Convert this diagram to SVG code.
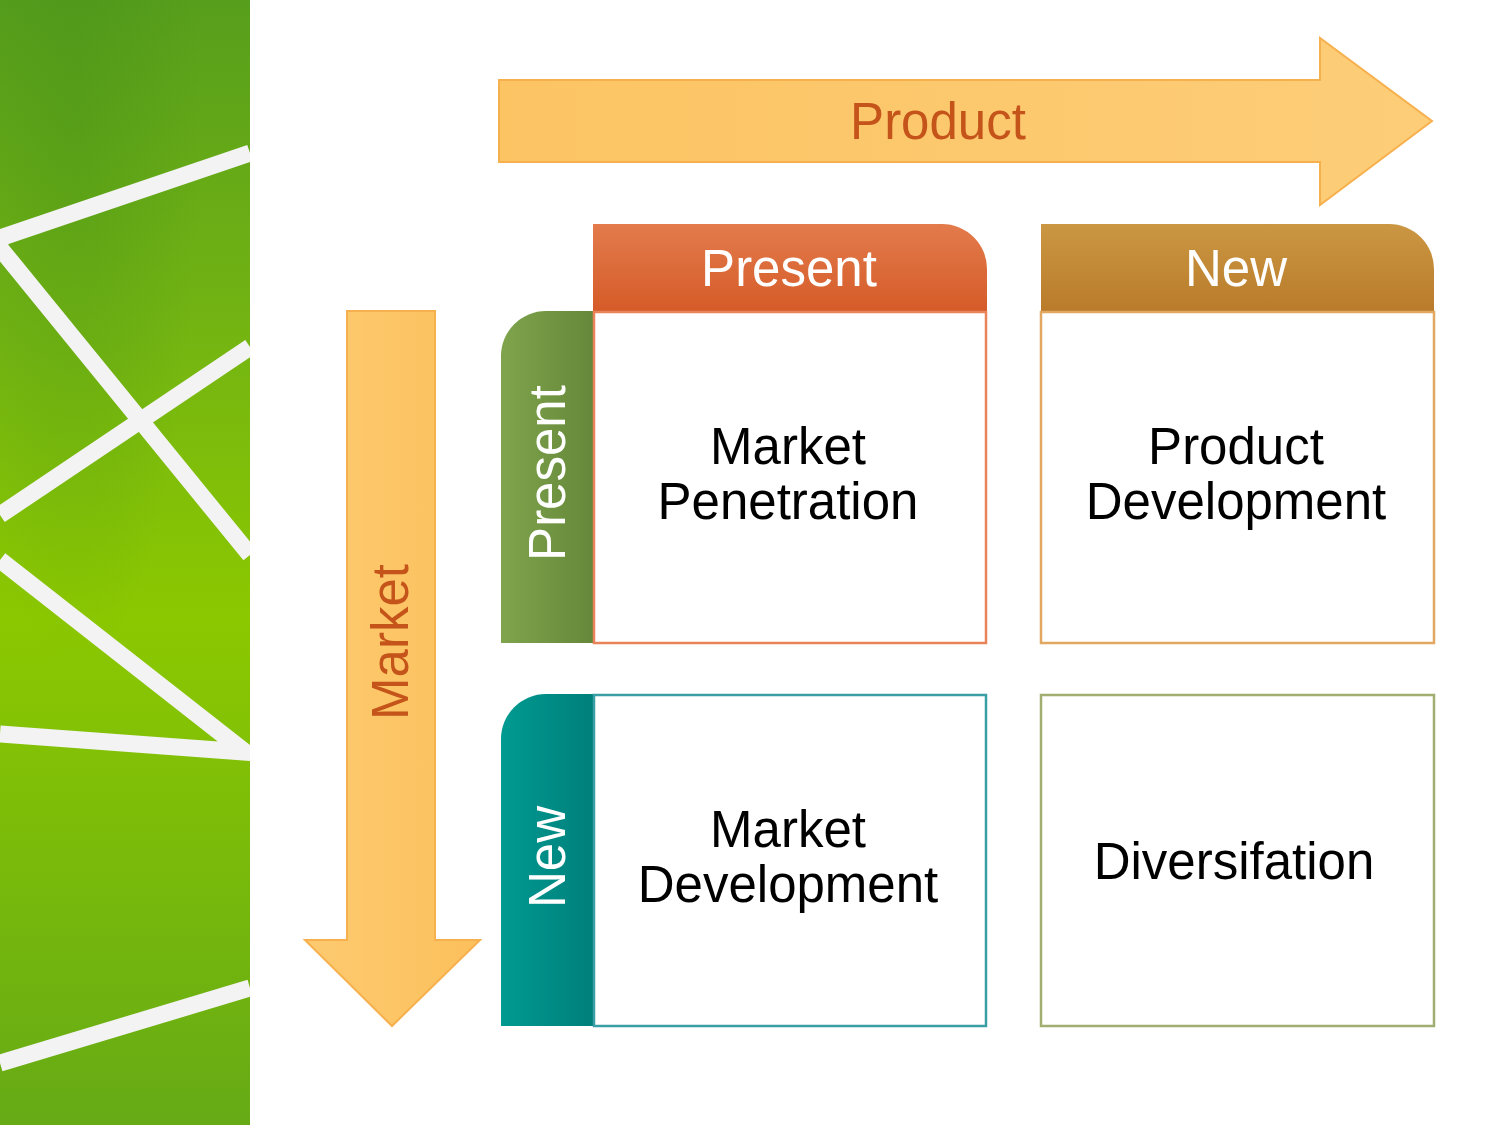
<svg xmlns="http://www.w3.org/2000/svg" width="1500" height="1125" viewBox="0 0 1500 1125">
  <defs>
    <linearGradient id="bgGreen" x1="0" y1="0" x2="0" y2="1">
      <stop offset="0" stop-color="#579e1c"/>
      <stop offset="0.3" stop-color="#74b512"/>
      <stop offset="0.55" stop-color="#8cc800"/>
      <stop offset="0.8" stop-color="#76b80c"/>
      <stop offset="1" stop-color="#66aa16"/>
    </linearGradient>
    <radialGradient id="bgShade" cx="0.3" cy="0.1" r="0.5">
      <stop offset="0" stop-color="#3f8a18" stop-opacity="0.3"/>
      <stop offset="1" stop-color="#3f8a18" stop-opacity="0"/>
    </radialGradient>
    <clipPath id="panelClip">
      <rect x="0" y="0" width="250" height="1125"/>
    </clipPath>
    <linearGradient id="arrowH" x1="0" y1="0" x2="1" y2="0">
      <stop offset="0" stop-color="#fcc463"/>
      <stop offset="1" stop-color="#fdcd78"/>
    </linearGradient>
    <linearGradient id="arrowV" x1="0" y1="0" x2="1" y2="0">
      <stop offset="0" stop-color="#fdca70"/>
      <stop offset="1" stop-color="#fcc05c"/>
    </linearGradient>
    <linearGradient id="hdrPresent" x1="0" y1="0" x2="0" y2="1">
      <stop offset="0" stop-color="#e37b4c"/>
      <stop offset="1" stop-color="#d55b28"/>
    </linearGradient>
    <linearGradient id="hdrNew" x1="0" y1="0" x2="0" y2="1">
      <stop offset="0" stop-color="#cb9743"/>
      <stop offset="1" stop-color="#b97b2a"/>
    </linearGradient>
    <linearGradient id="tabPresent" x1="0" y1="0" x2="1" y2="0">
      <stop offset="0" stop-color="#7fa44c"/>
      <stop offset="1" stop-color="#65873a"/>
    </linearGradient>
    <linearGradient id="tabNew" x1="0" y1="0" x2="1" y2="0">
      <stop offset="0" stop-color="#009a91"/>
      <stop offset="1" stop-color="#007f7b"/>
    </linearGradient>
  </defs>
  <style>
    .stripe { stroke: #f3f3f3; stroke-width: 17; fill: none; stroke-linecap: butt; stroke-linejoin: miter; }
    .lbl { font-family: "Liberation Sans", Arial, sans-serif; font-size: 51px; text-anchor: middle; }
    .axis { fill: #c4541a; }
    .white { fill: #ffffff; }
    .dark { fill: #000000; }
    .cell { fill: #ffffff; stroke-width: 2.5; }
  </style>

  <rect x="0" y="0" width="1500" height="1125" fill="#ffffff"/>

  <!-- green decorative panel -->
  <g id="panel" clip-path="url(#panelClip)">
    <rect x="0" y="0" width="250" height="1125" fill="url(#bgGreen)"/>
    <rect x="0" y="0" width="250" height="1125" fill="url(#bgShade)"/>
    <polyline class="stripe" points="250,153 0,238 0,248 250,555"/>
    <line class="stripe" x1="0" y1="515" x2="250" y2="347"/>
    <polyline class="stripe" points="0,560 245,752 0,734"/>
    <line class="stripe" x1="0" y1="1063" x2="250" y2="988"/>
  </g>

  <g id="connectors">
    <g id="arrow-product">
      <polygon points="499,80 1320,80 1320,38 1432,121 1320,205 1320,162 499,162" fill="url(#arrowH)" stroke="#f7b04e" stroke-width="2"/>
      <text class="lbl axis" x="938" y="139">Product</text>
    </g>
    <g id="arrow-market">
      <polygon points="347,311 435,311 435,940 480,940 392,1026 305,940 347,940" fill="url(#arrowV)" stroke="#f7b04e" stroke-width="2"/>
      <text class="lbl axis" font-size="49" transform="translate(408,642) rotate(-90)">Market</text>
    </g>
  </g>

  <g id="header-present">
    <path d="M593,224 H942 A45,45 0 0 1 987,269 V312 H593 Z" fill="url(#hdrPresent)"/>
    <text class="lbl white" x="789" y="286">Present</text>
  </g>
  <g id="header-new">
    <path d="M1041,224 H1389 A45,45 0 0 1 1434,269 V312 H1041 Z" fill="url(#hdrNew)"/>
    <text class="lbl white" x="1236" y="286">New</text>
  </g>

  <g id="tab-present">
    <path d="M594,311 V643 H501 V356 A45,45 0 0 1 546,311 Z" fill="url(#tabPresent)"/>
    <text class="lbl white" font-size="49" transform="translate(565,473) rotate(-90)">Present</text>
  </g>
  <g id="tab-new">
    <path d="M594,694 V1026 H501 V739 A45,45 0 0 1 546,694 Z" fill="url(#tabNew)"/>
    <text class="lbl white" font-size="49" transform="translate(565,857) rotate(-90)">New</text>
  </g>

  <g id="cell-market-penetration">
    <rect class="cell" x="594" y="312" width="392" height="331" stroke="#e9835a"/>
    <text class="lbl dark" x="788" y="464">Market</text>
    <text class="lbl dark" x="788" y="519">Penetration</text>
  </g>
  <g id="cell-product-development">
    <rect class="cell" x="1041" y="312" width="393" height="331" stroke="#e2a862"/>
    <text class="lbl dark" x="1236" y="464">Product</text>
    <text class="lbl dark" x="1236" y="519">Development</text>
  </g>
  <g id="cell-market-development">
    <rect class="cell" x="594" y="695" width="392" height="331" stroke="#3a9ea5"/>
    <text class="lbl dark" x="788" y="847">Market</text>
    <text class="lbl dark" x="788" y="902">Development</text>
  </g>
  <g id="cell-diversification">
    <rect class="cell" x="1041" y="695" width="393" height="331" stroke="#a0ae70"/>
    <text class="lbl dark" x="1234" y="879">Diversifation</text>
  </g>
</svg>
